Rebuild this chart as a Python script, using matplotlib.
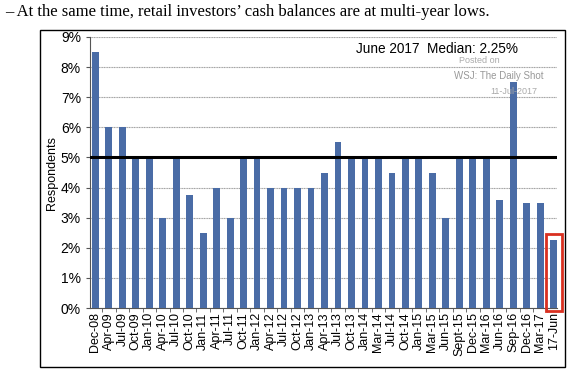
import matplotlib.pyplot as plt
from matplotlib.patches import Rectangle
from matplotlib.ticker import FuncFormatter, FixedLocator
import numpy as np

plt.rcParams['font.family'] = ['Liberation Sans', 'DejaVu Sans']

labels = ['Dec-08', 'Apr-09', 'Jul-09', 'Oct-09', 'Jan-10', 'Apr-10', 'Jul-10', 'Oct-10',
          'Jan-11', 'Apr-11', 'Jul-11', 'Oct-11', 'Jan-12', 'Apr-12', 'Jul-12', 'Oct-12',
          'Jan-13', 'Apr-13', 'Jul-13', 'Oct-13', 'Jan-14', 'Mar-14', 'Jul-14', 'Oct-14',
          'Jan-15', 'Mar-15', 'Jun-15', 'Sept-15', 'Dec-15', 'Mar-16', 'Jun-16', 'Sep-16',
          'Dec-16', 'Mar-17', '17-Jun']
cash = [8.5, 6.0, 6.0, 5.0, 5.0, 3.0, 5.0, 3.75,
        2.5, 4.0, 3.0, 5.0, 5.0, 4.0, 4.0, 4.0,
        4.0, 4.5, 5.5, 5.0, 5.0, 5.0, 4.5, 5.0,
        5.0, 4.5, 3.0, 5.0, 5.0, 5.0, 3.6, 7.5,
        3.5, 3.5, 2.25]
median_line = 5.0

fig = plt.figure(figsize=(5.72, 3.8), dpi=100)

# header sentence above the chart
fig.text(5 / 572, 1 - 12 / 380,
         '\u2013 At the same time, retail investors\u2019 cash balances are at multi-year lows.',
         family=['Liberation Serif', 'DejaVu Serif'], fontsize=12, va='center', ha='left')

# black frame round the chart
fig.add_artist(Rectangle((40 / 572, 1 - 367 / 380), 525 / 572, 337 / 380,
                         transform=fig.transFigure, fill=False, edgecolor='black', lw=1))

ax = fig.add_axes([90 / 572, 1 - 308 / 380, 467 / 572, 271 / 380])

x = np.arange(len(labels))
ax.bar(x, cash, width=0.5, color='#4a6ca6', zorder=3)
ax.axhline(median_line, color='black', lw=2.2, zorder=4)

ax.set_ylim(0, 9)
ax.set_xlim(-0.4, len(labels) - 0.75)
ax.set_yticks(np.arange(0, 10, 1))
ax.yaxis.set_major_formatter(FuncFormatter(lambda v, p: '%d%%' % v))
ax.set_xticks(x)
ax.set_xticklabels(labels, rotation=90, fontsize=9)
ax.tick_params(axis='x', length=0, pad=3)
ax.xaxis.set_minor_locator(FixedLocator(x[:-1] + 0.5))
ax.tick_params(axis='x', which='minor', length=3, direction='out', color='#555555')
ax.tick_params(axis='y', labelsize=10, length=3, color='#555555')
ax.grid(axis='y', color='#a0a0a0', lw=0.8, ls=(0, (1, 0.5)), zorder=0)
for s in ['top', 'right']:
    ax.spines[s].set_visible(False)
ax.spines['left'].set_color('#555555')
ax.spines['bottom'].set_color('#555555')
ax.set_ylabel('Respondents', fontsize=9, labelpad=2)

# red box around the latest reading
ax.add_patch(Rectangle((len(labels) - 1.6, -0.1), 1.2, 2.55, fill=False,
                       edgecolor='#d93020', lw=2, clip_on=False, zorder=5))

ax.text(0.916, 0.956, 'June 2017  Median: 2.25%', transform=ax.transAxes,
        ha='right', va='center', fontsize=9.8)
ax.text(0.833, 0.913, 'Posted on', transform=ax.transAxes, ha='center', va='center',
        fontsize=6.5, color='#aaaaaa')
ax.text(0.876, 0.856, 'WSJ: The Daily Shot', transform=ax.transAxes, ha='center', va='center',
        fontsize=7, color='#999999')
ax.text(0.957, 0.80, '11-Jul-2017', transform=ax.transAxes, ha='right', va='center',
        fontsize=6.5, color='#aaaaaa')

fig.savefig('out.png', dpi=100)
